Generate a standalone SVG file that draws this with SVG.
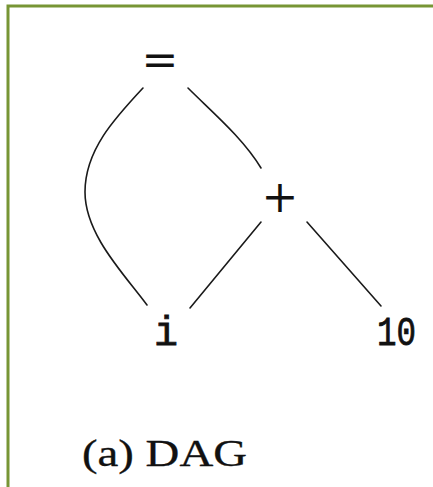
<svg xmlns="http://www.w3.org/2000/svg" width="433" height="487" viewBox="0 0 433 487">
<style>
.edge{fill:none;stroke:#1a1a1a;stroke-width:1.6;stroke-linecap:round}
.op{font-family:"DejaVu Serif",serif;font-size:44px;fill:#111;text-anchor:middle}
.tt{font-family:"Liberation Mono",monospace;font-size:40px;fill:#111;stroke:#111;stroke-width:0.8}
.cap{font-family:"Liberation Serif",serif;font-size:37px;fill:#111;stroke:#111;stroke-width:0.3}
</style>
<rect width="433" height="487" fill="#ffffff"/>
<path d="M8,487 L8,6 L433,6" fill="none" stroke="#779535" stroke-width="3"/>
<g id="connectors">
<path class="edge" d="M143,88 C115,118 85,150 85,192 C85,235 125,275 147,305"/>
<path class="edge" d="M188,88 C212,112 243,138 261,168"/>
<path class="edge" d="M261,222 L190,308"/>
<path class="edge" d="M307,222 L381,306"/>
</g>
<g id="node-eq"><text class="op" x="160" y="75">=</text></g>
<g id="node-plus"><text class="op" x="280" y="212">+</text></g>
<g id="node-i"><text class="tt" x="154" y="345">i</text></g>
<g id="node-10"><text class="tt" x="377" y="345" textLength="39" lengthAdjust="spacingAndGlyphs">10</text></g>
<g id="caption"><text class="cap" x="82" y="466" textLength="165" lengthAdjust="spacingAndGlyphs">(a) DAG</text></g>
</svg>
